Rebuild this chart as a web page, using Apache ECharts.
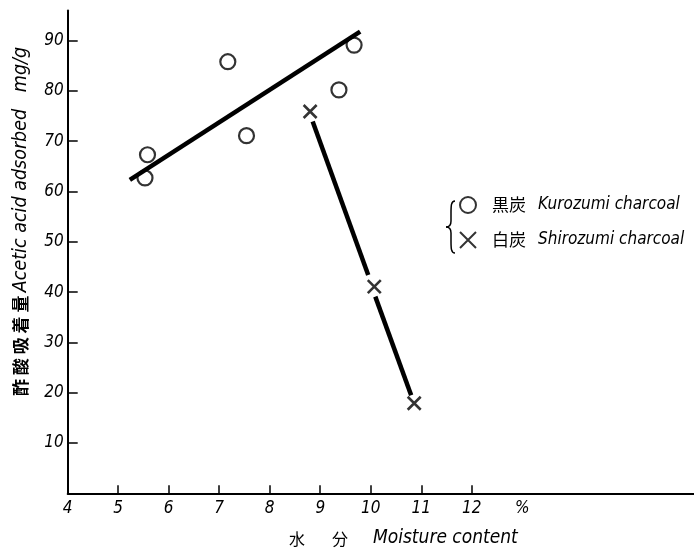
<!DOCTYPE html>
<html>
<head>
<meta charset="utf-8">
<script src="https://cdn.jsdelivr.net/npm/echarts@6/dist/echarts.min.js"></script>
<style>html,body{margin:0;padding:0;background:#fff;}#c{width:694px;height:552px;}</style>
</head>
<body>
<div id="c"></div>
<script>
// Data
var kurozumiPoints = [[5.58, 67.3], [5.53, 62.7], [7.17, 85.8], [7.54, 71.1], [9.37, 80.2], [9.67, 89.1]];
var kurozumiLine = [[5.23, 62.3], [9.79, 91.8]];
var shirozumiPoints = [[8.80, 75.9], [10.07, 41.1], [10.86, 17.9]];
var shirozumiLineA = [[8.85, 73.9], [9.95, 43.4]];
var shirozumiLineB = [[10.09, 39.1], [10.80, 19.5]];
var xTickLabels = [4, 5, 6, 7, 8, 9, 10, 11, 12, 13];
var xTicks = [5, 6, 7, 8, 9, 10, 11, 12];
var yTickLabels = [10, 20, 30, 40, 50, 60, 70, 80, 90];

var EN = "'DejaVu Sans Condensed','Liberation Sans Narrow','Liberation Sans',sans-serif";
var JP = "'Noto Sans CJK JP','Noto Sans CJK SC',sans-serif";

var chart = echarts.init(document.getElementById('c'), null, {renderer: 'canvas'});
var xPath = 'path://M0,0L10,10M10,0L0,10';
var braceStyle = {fill: 'none', stroke: '#000', lineWidth: 1.5};

chart.setOption({
  animation: false,
  backgroundColor: '#fff',
  grid: {left: 67.7, right: 0, top: 10.4, bottom: 58.7, containLabel: false},
  xAxis: {
    type: 'value', min: 4, max: 16.4,
    axisLine: {show: true, lineStyle: {color: '#000', width: 2}},
    axisTick: {show: true, inside: true, length: 8, customValues: xTicks, lineStyle: {color: '#000', width: 1.5}},
    axisLabel: {
      customValues: xTickLabels, margin: 7,
      fontFamily: EN, fontStyle: 'italic', fontSize: 17, color: '#000',
      formatter: function (v) { return v === 13 ? '%' : String(v); }
    },
    splitLine: {show: false}
  },
  yAxis: {
    type: 'value', min: 0, max: 96,
    axisLine: {show: true, lineStyle: {color: '#000', width: 2}},
    axisTick: {show: true, inside: true, length: 10, customValues: yTickLabels, lineStyle: {color: '#000', width: 1.5}},
    axisLabel: {customValues: yTickLabels, margin: 4, fontFamily: EN, fontStyle: 'italic', fontSize: 17, color: '#000'},
    splitLine: {show: false}
  },
  legend: {
    orient: 'vertical', left: 459, top: 196, padding: 0, itemGap: 17, itemWidth: 16, itemHeight: 16,
    data: ['Kurozumi', 'Shirozumi'],
    formatter: function (n) {
      return n === 'Kurozumi' ? '{jp|黒炭}{en|Kurozumi charcoal}' : '{jp|白炭}{en|Shirozumi charcoal}';
    },
    textStyle: {
      rich: {
        jp: {fontFamily: JP, fontSize: 17, color: '#000', padding: [0, 0, 0, 11]},
        en: {fontFamily: EN, fontStyle: 'italic', fontSize: 17, color: '#000', padding: [0, 0, 0, 12]}
      }
    }
  },
  series: [
    {name: 'KuroLine', type: 'line', data: kurozumiLine, symbol: 'none', lineStyle: {color: '#000', width: 4.5}, z: 2, silent: true},
    {name: 'ShiroLineA', type: 'line', data: shirozumiLineA, symbol: 'none', lineStyle: {color: '#000', width: 4.5}, z: 2, silent: true},
    {name: 'ShiroLineB', type: 'line', data: shirozumiLineB, symbol: 'none', lineStyle: {color: '#000', width: 4.5}, z: 2, silent: true},
    {name: 'Kurozumi', type: 'scatter', data: kurozumiPoints, symbol: 'circle', symbolSize: 15,
      itemStyle: {color: 'rgba(255,255,255,0)', borderColor: '#000', borderWidth: 2.2}, z: 3},
    {name: 'Shirozumi', type: 'scatter', data: shirozumiPoints, symbol: xPath, symbolSize: 13,
      itemStyle: {color: 'rgba(255,255,255,0)', borderColor: '#000', borderWidth: 2.6}, z: 3}
  ],
  graphic: [
    {type: 'text', x: 11, y: 396, rotation: Math.PI / 2, style: {
      text: '{jp|酢 酸 吸 着 量} {en|Acetic acid adsorbed}     {en|mg/g}',
      rich: {
        jp: {fontFamily: JP, fontSize: 17, fontWeight: 'bold', fill: '#000'},
        en: {fontFamily: EN, fontStyle: 'italic', fontSize: 19.5, fill: '#000'}
      }
    }},
    {type: 'text', x: 289, y: 531, style: {text: '水', fontFamily: JP, fontSize: 16, fill: '#000'}},
    {type: 'text', x: 332, y: 531, style: {text: '分', fontFamily: JP, fontSize: 16, fill: '#000'}},
    {type: 'text', x: 373, y: 529, style: {text: 'Moisture content', fontFamily: EN, fontStyle: 'italic', fontSize: 19, fill: '#000'}},
    {type: 'bezierCurve', shape: {x1: 455, y1: 201, cpx1: 451, cpy1: 201, cpx2: 451, cpy2: 206, x2: 451, y2: 213}, style: braceStyle},
    {type: 'line', shape: {x1: 451, y1: 213, x2: 451, y2: 221}, style: braceStyle},
    {type: 'bezierCurve', shape: {x1: 451, y1: 221, cpx1: 451, cpy1: 225, cpx2: 449, cpy2: 227, x2: 446, y2: 227}, style: braceStyle},
    {type: 'bezierCurve', shape: {x1: 446, y1: 227, cpx1: 449, cpy1: 227, cpx2: 451, cpy2: 229, x2: 451, y2: 233}, style: braceStyle},
    {type: 'line', shape: {x1: 451, y1: 233, x2: 451, y2: 241}, style: braceStyle},
    {type: 'bezierCurve', shape: {x1: 451, y1: 241, cpx1: 451, cpy1: 248, cpx2: 451, cpy2: 253, x2: 455, y2: 253}, style: braceStyle}
  ]
});
</script>
</body>
</html>
